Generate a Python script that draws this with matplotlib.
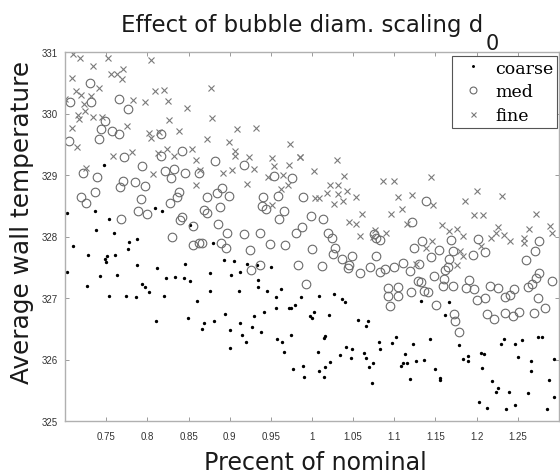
import matplotlib
matplotlib.use('Agg')
import matplotlib.pyplot as plt

# ---------------- data ----------------
fine_x = [0.710, 0.718, 0.734, 0.752, 0.804, 0.756, 0.763, 0.771, 0.769, 0.709,
          0.741, 0.713, 0.719, 0.732, 0.700, 0.809, 0.820, 0.877, 0.783, 0.797,
          0.825, 0.723, 0.848, 0.716, 0.724, 0.734, 0.717, 0.745, 0.826, 0.879,
          0.775, 0.708, 0.802, 0.804, 0.814, 0.838, 0.909, 0.932, 0.873, 0.899,
          0.973, 0.715, 0.758, 0.781, 0.813, 0.824, 0.832, 0.854, 0.907, 0.906,
          0.924, 0.951, 0.985, 0.859, 0.725, 0.954, 0.972, 0.930, 0.903, 0.892,
          0.807, 0.864, 0.947, 0.965, 0.859, 0.921, 0.971, 0.962, 0.952,
          0.986, 1.030, 1.002, 1.039, 1.022, 1.032, 1.086, 1.100, 1.144, 1.004,
          1.008, 1.018, 1.031, 1.042, 1.054, 1.027, 1.038, 1.105, 1.122, 1.147,
          1.186, 1.200, 1.231, 1.061, 1.096, 1.109, 1.197, 1.208, 1.272,
          1.045, 1.053, 1.058, 1.074, 1.076, 1.090, 1.115, 1.158, 1.167, 1.176,
          1.183, 1.146, 1.138, 1.180, 1.183, 1.176, 1.126, 1.218, 1.226, 1.223,
          1.233, 1.241, 1.257, 1.258, 1.263, 1.289, 1.291, 1.205]
fine_y = [330.96, 330.91, 330.77, 330.91, 330.87, 330.64, 330.65, 330.73, 330.56, 330.57,
          330.41, 330.36, 330.30, 330.28, 330.23, 330.36, 330.38, 330.41, 330.22, 330.18,
          330.20, 330.15, 330.09, 329.97, 330.04, 329.95, 329.91, 329.95, 329.89, 329.92,
          329.79, 329.76, 329.68, 329.60, 329.70, 329.72, 329.75, 329.76, 329.58, 329.53,
          329.50, 329.45, 329.31, 329.38, 329.35, 329.42, 329.31, 329.42, 329.39, 329.31,
          329.29, 329.28, 329.29, 329.24, 329.12, 329.15, 329.17, 329.10, 329.08, 329.03,
          329.02, 329.08, 328.96, 329.00, 328.84, 328.86, 328.84, 328.77, 328.52,
          329.30, 329.25, 329.06, 328.99, 328.83, 328.84, 328.90, 328.90, 328.97, 328.62,
          328.62, 328.70, 328.69, 328.74, 328.65, 328.53, 328.58, 328.65, 328.68, 328.52,
          328.57, 328.74, 328.66, 328.37, 328.36, 328.44, 328.35, 328.35, 328.37,
          328.23, 328.20, 328.01, 328.00, 328.11, 328.06, 328.20, 328.18, 328.09, 328.13,
          328.01, 327.92, 327.81, 327.76, 327.68, 327.54, 327.56, 327.97, 328.16, 328.06,
          328.02, 327.93, 327.98, 327.89, 328.13, 328.17, 328.06, 327.85]

med_x = [0.730, 0.706, 0.731, 0.766, 0.777, 0.749, 0.744, 0.757, 0.765, 0.741,
         0.705, 0.816, 0.772, 0.816, 0.842, 0.882, 0.793, 0.822, 0.832, 0.846,
         0.863, 0.829, 0.917, 0.722, 0.739, 0.771, 0.785, 0.797, 0.767, 0.736,
         0.720, 0.726, 0.792, 0.836, 0.839, 0.828, 0.891, 0.885, 0.873, 0.888,
         0.899, 0.954, 0.976, 0.989, 0.959, 0.941, 0.939, 0.944, 0.966, 0.789,
         0.800, 0.768, 0.842, 0.869, 0.873,
         0.840, 0.855, 0.830, 0.886, 0.897, 0.918, 0.937, 0.856, 0.863, 0.867,
         0.889, 0.895, 0.925, 0.949, 0.967, 0.926, 0.937, 0.960, 0.981, 0.988,
         0.983, 0.993,
         0.999, 1.013, 1.000, 1.012, 1.020, 1.024, 1.028, 1.025, 1.036, 1.045,
         1.048, 1.044, 1.058, 1.070, 1.078, 1.083, 1.089, 1.099, 1.110, 1.121,
         1.119, 1.129, 1.130, 1.132, 1.136, 1.141, 1.120, 1.092, 1.104, 1.092,
         1.104, 1.095, 1.082, 1.078, 1.075, 1.134, 1.124, 1.154, 1.145, 1.148,
         1.160, 1.161, 1.165, 1.167, 1.171, 1.169, 1.159, 1.171, 1.151, 1.172,
         1.174, 1.178, 1.195, 1.202, 1.210, 1.187, 1.191, 1.197, 1.201, 1.210,
         1.216, 1.226, 1.212, 1.221, 1.235, 1.241, 1.245, 1.235, 1.244, 1.252,
         1.260, 1.271, 1.262, 1.267, 1.272, 1.276, 1.274, 1.270, 1.283, 1.292,
         1.139, 1.276]
med_y = [330.49, 330.19, 330.19, 330.23, 330.08, 329.88, 329.74, 329.72, 329.66, 329.59,
         329.55, 329.66, 329.29, 329.31, 329.39, 329.22, 329.14, 329.07, 329.10, 329.04,
         329.03, 328.95, 329.16, 329.03, 328.97, 328.91, 328.89, 328.82, 328.80, 328.73,
         328.64, 328.54, 328.61, 328.64, 328.72, 328.54, 328.79, 328.71, 328.64, 328.48,
         328.66, 328.98, 328.95, 328.65, 328.66, 328.65, 328.50, 328.44, 328.42, 328.41,
         328.36, 328.28, 328.31, 328.43, 328.39,
         328.27, 328.17, 328.00, 328.20, 328.05, 328.04, 328.05, 327.86, 327.90, 327.89,
         327.90, 327.81, 327.78, 327.87, 327.86, 327.46, 327.53, 328.28, 328.06, 328.15,
         327.54, 327.23,
         328.33, 328.29, 327.80, 327.52, 328.06, 327.98, 327.82, 327.72, 327.63, 327.54,
         327.69, 327.49, 327.41, 327.51, 327.68, 327.43, 327.47, 327.50, 327.57, 328.24,
         327.44, 327.28, 327.55, 327.26, 327.11, 327.09, 327.10, 327.16, 327.18, 327.03,
         327.03, 326.87, 327.95, 327.98, 328.04, 327.93, 327.82, 327.78, 327.66, 327.35,
         327.31, 327.45, 327.50, 327.63, 327.77, 327.95, 327.19, 327.19, 326.89, 326.74,
         326.62, 326.45, 327.70, 327.96, 327.75, 327.16, 327.30, 327.14, 326.96, 327.00,
         327.19, 327.16, 326.74, 326.66, 327.01, 327.05, 327.14, 326.76, 326.71, 326.77,
         327.62, 327.76, 327.18, 327.23, 327.33, 327.41, 327.00, 326.76, 326.83, 327.28,
         328.57, 327.93]

coarse_x = [0.747, 0.702, 0.737, 0.809, 0.818, 0.754, 0.738, 0.759, 0.710, 0.778,
            0.787, 0.776, 0.728, 0.748, 0.750, 0.751, 0.761, 0.787, 0.702, 0.743,
            0.763, 0.812, 0.823, 0.834, 0.844, 0.852, 0.846, 0.852, 0.727, 0.794,
            0.797, 0.802, 0.753, 0.774, 0.786, 0.820, 0.860, 0.811, 0.849, 0.867,
            0.869, 0.881, 0.876, 0.876, 0.880, 0.893, 0.905, 0.902, 0.913, 0.911,
            0.894, 0.901, 0.901, 0.913, 0.915, 0.920, 0.927, 0.929, 0.921, 0.933,
            0.934, 0.934, 0.938, 0.945, 0.942, 0.950, 0.956, 0.956, 0.962, 0.957,
            0.963, 0.966, 0.972, 0.975, 0.979, 0.975, 0.977, 0.987, 0.989, 0.990,
            1.009, 1.027, 1.036, 1.040, 1.003, 0.998, 1.000, 1.021, 1.056, 1.068,
            1.066, 1.015, 1.016, 1.081, 1.097, 1.102, 1.083, 1.041, 1.049, 1.007,
            1.034, 1.063, 1.065, 1.047, 1.074, 1.022, 1.016, 1.009, 1.014, 1.069,
            1.073, 1.113, 1.115, 1.108, 1.111, 1.119, 1.126, 1.136, 1.123, 1.143,
            1.132, 1.161, 1.167, 1.150, 1.155, 1.156, 1.178, 1.183, 1.189, 1.190,
            1.205, 1.207, 1.219, 1.223, 1.226, 1.203, 1.213, 1.236, 1.239, 1.247,
            1.262, 1.229, 1.233, 1.246, 1.255, 1.250, 1.266, 1.266, 1.274, 1.288,
            1.294, 1.294, 1.285, 1.279, 1.209]
coarse_y = [329.17, 328.39, 328.41, 328.46, 328.41, 328.28, 328.10, 328.05, 327.84, 327.91,
            327.96, 327.80, 327.70, 327.63, 327.58, 327.68, 327.70, 327.54, 327.42, 327.35,
            327.38, 327.49, 327.33, 327.34, 327.33, 327.28, 327.56, 328.18, 327.20, 327.22,
            327.18, 327.09, 327.03, 327.03, 327.02, 327.03, 326.95, 326.63, 326.68, 326.49,
            326.60, 326.63, 327.11, 327.41, 327.89, 327.62, 327.60, 327.38, 327.42, 327.11,
            326.74, 326.48, 326.18, 326.59, 326.40, 326.29, 326.53, 326.70, 327.56, 327.54,
            327.30, 327.18, 326.44, 327.11, 326.78, 327.51, 327.01, 326.84, 327.14, 326.33,
            326.29, 326.12, 326.84, 326.84, 326.89, 326.40, 325.85, 327.01, 325.90, 325.72,
            327.03, 327.06, 326.98, 326.94, 326.77, 326.71, 326.68, 326.72, 326.64, 326.62,
            326.54, 326.35, 326.38, 326.29, 326.27, 326.36, 326.17, 326.20, 326.17, 326.12,
            326.08, 326.10, 326.02, 326.02, 325.95, 325.96, 325.88, 325.82, 325.71, 325.87,
            325.62, 326.09, 325.94, 325.90, 325.95, 325.69, 325.98, 325.99, 326.25, 326.33,
            326.95, 326.73, 326.94, 325.85, 325.70, 325.67, 326.24, 326.01, 325.97, 326.06,
            326.10, 325.86, 325.65, 325.47, 325.53, 325.31, 325.21, 325.19, 325.47, 325.26,
            325.46, 326.25, 326.33, 326.25, 326.31, 326.04, 325.98, 325.82, 326.37, 325.66,
            326.01, 325.39, 325.19, 326.37, 326.09]

x_ticks = [0.75, 0.8, 0.85, 0.9, 0.95, 1.0, 1.05, 1.1, 1.15, 1.2, 1.25]
x_tick_labels = ['0.75', '0.8', '0.85', '0.9', '0.95', '1', '1.05', '1.1', '1.15', '1.2', '1.25']
y_ticks = [325, 326, 327, 328, 329, 330, 331]
series_labels = ['coarse', 'med', 'fine']
title_main = 'Effect of bubble diam. scaling d'
title_sub = '0'

# ---------------- figure ----------------
plt.rcParams['font.family'] = ['Liberation Sans', 'DejaVu Sans']

W, H = 560, 477
fig = plt.figure(figsize=(W / 100, H / 100), dpi=100)
ax = fig.add_axes([65 / W, 1 - 422 / H, 494 / W, 369 / H])

ax.plot(coarse_x, coarse_y, linestyle='none', marker='.', color='black',
        markersize=2.8, label=series_labels[0])
ax.plot(med_x, med_y, linestyle='none', marker='o', markerfacecolor='none',
        markeredgecolor='#6a6a6a', markeredgewidth=0.8, markersize=6.2,
        label=series_labels[1])
ax.plot(fine_x, fine_y, linestyle='none', marker='x', color='#7a7a7a',
        markeredgewidth=0.8, markersize=4.5, label=series_labels[2])

ax.set_xlim(0.70, 1.30)
ax.set_ylim(325, 331)
ax.set_xticks(x_ticks)
ax.set_xticklabels(x_tick_labels)
ax.set_yticks(y_ticks)
ax.tick_params(direction='in', top=True, right=True, length=3, width=0.6,
               color='#8a8a8a', labelsize=7, labelcolor='#333333')
ax.tick_params(axis='x', pad=7)
ax.tick_params(axis='y', pad=5)
for sp in ax.spines.values():
    sp.set_color('#b0b0b0')
    sp.set_linewidth(1.0)

# title with a low-set subscript (as in the reference)
t_main = fig.text(121 / W, 1 - 32 / H, title_main, ha='left', va='baseline',
                  fontsize=16.5, family='DejaVu Sans', color='#1a1a1a')
fig.canvas.draw()
bb = t_main.get_window_extent()
fig.text((bb.x1 + 2) / W, 1 - 50 / H, title_sub, ha='left', va='baseline',
         fontsize=15, family='DejaVu Sans', color='#1a1a1a')

fig.text(315 / W, 1 - 470 / H, 'Precent of nominal', ha='center', va='baseline',
         fontsize=17.1, family='DejaVu Sans', color='#1a1a1a')
fig.text(22 / W, 1 - 222 / H, 'Average wall temperature', ha='center',
         va='center', rotation=90, fontsize=17.8, family='DejaVu Sans',
         color='#1a1a1a')

leg = ax.legend(loc='upper right', bbox_to_anchor=(0.996, 0.989),
                borderaxespad=0, fancybox=False, framealpha=1,
                prop={'family': 'DejaVu Serif', 'size': 12.5},
                handlelength=2.0, handletextpad=0.3, labelspacing=0.4,
                borderpad=0.2, markerscale=0.8)
leg.get_frame().set_edgecolor('#555555')
leg.get_frame().set_linewidth(0.8)

fig.savefig('out.png', dpi=100)
